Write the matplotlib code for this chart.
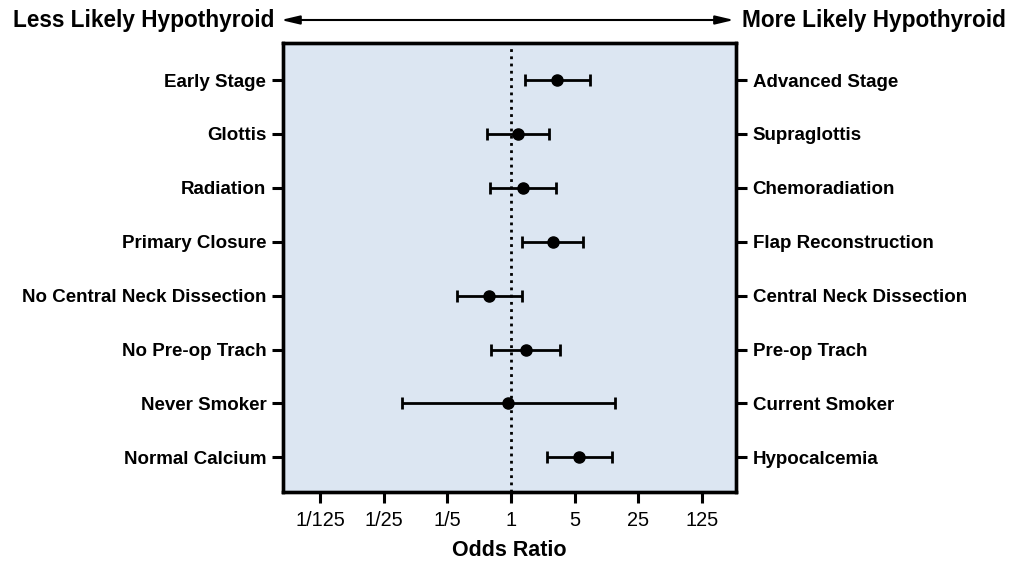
import matplotlib
matplotlib.use("Agg")
import matplotlib.pyplot as plt
import numpy as np

plt.rcParams['font.family'] = ['Liberation Sans', 'DejaVu Sans']

left_labels = ["Early Stage", "Glottis", "Radiation", "Primary Closure",
               "No Central Neck Dissection", "No Pre-op Trach", "Never Smoker", "Normal Calcium"]
right_labels = ["Advanced Stage", "Supraglottis", "Chemoradiation", "Flap Reconstruction",
                "Central Neck Dissection", "Pre-op Trach", "Current Smoker", "Hypocalcemia"]
odds_ratio = [3.23, 1.21, 1.36, 2.87, 0.58, 1.45, 0.93, 5.67]
ci_low = [1.44, 0.55, 0.59, 1.31, 0.257, 0.61, 0.063, 2.51]
ci_high = [7.38, 2.64, 3.15, 6.23, 1.31, 3.48, 13.9, 12.9]
tick_vals = [1/125, 1/25, 1/5, 1, 5, 25, 125]
tick_labels = ["1/125", "1/25", "1/5", "1", "5", "25", "125"]

fig = plt.figure(figsize=(10.18, 5.64), dpi=100)
ax = fig.add_axes([0.278, 0.128, 0.445, 0.795])
ax.set_facecolor('#dce6f2')

n = len(left_labels)
y = np.arange(n, 0, -1)
or_a = np.array(odds_ratio)
err = np.vstack([or_a - np.array(ci_low), np.array(ci_high) - or_a])

ax.axvline(1, color='black', linestyle=(0, (1, 1.6)), linewidth=2, zorder=1)
ax.errorbar(or_a, y, xerr=err, fmt='o', color='black', markersize=8,
            elinewidth=2, capsize=4.6, capthick=2, zorder=3)

ax.set_xscale('log')
ax.set_xlim(5 ** -3.585, 5 ** 3.54)
ax.set_ylim(0.36, 8.68)
ax.set_xticks(tick_vals)
ax.set_xticklabels(tick_labels, fontsize=14.3)
ax.minorticks_off()
ax.set_yticks(y)
ax.set_yticklabels(left_labels, fontsize=13.5, fontweight='bold')
ax.tick_params(axis='x', direction='out', length=8, width=2.2, pad=6)
ax.tick_params(axis='y', direction='out', length=8, width=2.2, pad=4)
for s in ax.spines.values():
    s.set_linewidth(2.4)
ax.set_xlabel("Odds Ratio", fontsize=15.5, fontweight='bold', labelpad=7)

ax2 = ax.twinx()
ax2.set_ylim(ax.get_ylim())
ax2.set_yticks(y)
ax2.set_yticklabels(right_labels, fontsize=13.5, fontweight='bold')
ax2.tick_params(axis='y', direction='out', length=8, width=2.2, pad=4)
for s in ax2.spines.values():
    s.set_linewidth(2.4)

ay = 1 - 20 / 564
fig.text(0.013, ay, "Less Likely Hypothyroid", fontsize=16.3, fontweight='bold',
         ha='left', va='center')
fig.text(0.988, ay, "More Likely Hypothyroid", fontsize=16.3, fontweight='bold',
         ha='right', va='center')
fig.patches.append(matplotlib.patches.FancyArrowPatch(
    (0.276, ay), (0.721, ay), transform=fig.transFigure,
    arrowstyle='<|-|>,head_length=11,head_width=2.6', color='black', linewidth=1.5,
    shrinkA=0, shrinkB=0))

fig.savefig("out.png", dpi=100, facecolor='white')
